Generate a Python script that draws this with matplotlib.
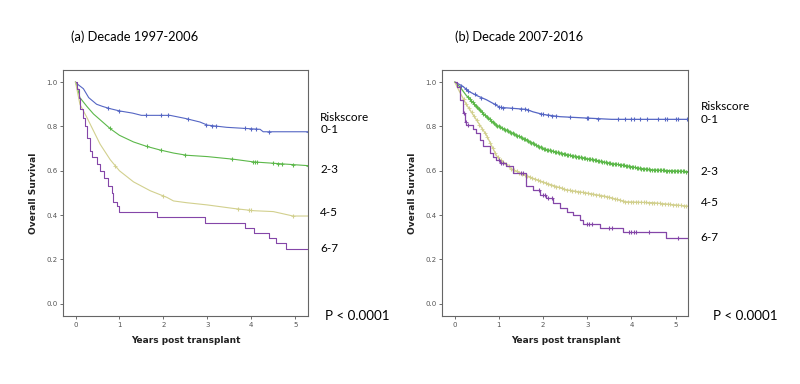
import numpy as np
import matplotlib
matplotlib.use("Agg")
import matplotlib.pyplot as plt

# Kaplan-Meier curves (years, survival)
groups = ["0-1", "2-3", "4-5", "6-7"]
colors = ["#5566c4", "#5cb84a", "#d2d08e", "#8446a8"]

# (a) decade 1997-2006
a_t = [
    [0, 0.05, 0.18, 0.3, 0.48, 0.62, 0.79, 1.0, 1.3, 1.5, 2.15, 2.5, 2.83, 3.0, 3.44, 4.2, 4.27, 5.3],
    [0, 0.05, 0.1, 0.26, 0.41, 0.56, 0.79, 1.0, 1.32, 1.62, 1.92, 2.23, 2.53, 3.0, 3.6, 4.05, 4.5, 5.3],
    [0, 0.05, 0.1, 0.26, 0.41, 0.56, 0.79, 1.0, 1.32, 1.7, 2.08, 2.23, 2.53, 3.0, 3.6, 4.05, 4.5, 4.95, 5.3],
    [0, 0.03, 0.07, 0.1, 0.18, 0.22, 0.26, 0.32, 0.37, 0.48, 0.56, 0.64, 0.75, 0.83, 0.86, 0.94, 1.0,
     1.85, 2.95, 3.86, 4.05, 4.41, 4.56, 4.78, 5.3],
]
a_s = [
    [1.0, 0.99, 0.97, 0.93, 0.90, 0.89, 0.88, 0.87, 0.86, 0.85, 0.85, 0.836, 0.82, 0.806, 0.796, 0.787, 0.776, 0.776],
    [1.0, 0.97, 0.93, 0.89, 0.856, 0.83, 0.79, 0.76, 0.73, 0.71, 0.694, 0.68, 0.67, 0.664, 0.652, 0.64, 0.634, 0.623],
    [1.0, 0.95, 0.90, 0.84, 0.78, 0.72, 0.65, 0.60, 0.55, 0.51, 0.48, 0.464, 0.456, 0.446, 0.43, 0.42, 0.416, 0.396, 0.396],
    [1.0, 0.97, 0.93, 0.88, 0.84, 0.80, 0.75, 0.69, 0.66, 0.63, 0.60, 0.566, 0.53, 0.50, 0.46, 0.44, 0.416,
     0.393, 0.366, 0.341, 0.318, 0.296, 0.273, 0.246, 0.246],
]
a_cens = [
    [0.75, 1.0, 1.6, 1.95, 2.1, 2.55, 2.98, 3.1, 3.2, 3.85, 4.0, 4.1, 4.4, 5.28],
    [0.78, 1.62, 1.95, 2.5, 3.55, 4.03, 4.08, 4.12, 4.5, 4.6, 4.7, 4.95, 5.28],
    [0.9, 2.0, 3.7, 3.95, 4.0, 4.95],
    [],
]
a_stepped = [False, False, False, True]

# (b) decade 2007-2016
b_t = [
    [0, 0.1, 0.19, 0.3, 0.49, 0.72, 0.94, 1.02, 1.62, 1.77, 2.0, 2.38, 3.55, 5.3],
    [0, 0.05, 0.11, 0.26, 0.49, 0.72, 0.94, 1.24, 1.55, 1.77, 2.0, 2.38, 2.75, 3.13, 3.51, 3.88, 4.19, 4.49, 5.3],
    [0, 0.05, 0.11, 0.26, 0.49, 0.72, 0.94, 1.02, 1.32, 1.77, 2.07, 2.53, 2.98, 3.43, 3.88, 4.49, 5.3],
    [0, 0.04, 0.11, 0.19, 0.23, 0.26, 0.41, 0.49, 0.57, 0.64, 0.79, 0.87, 0.94, 1.02, 1.17, 1.32, 1.62,
     1.77, 1.92, 2.07, 2.22, 2.38, 2.53, 2.68, 2.83, 2.9, 3.28, 3.81, 4.79, 5.3],
]
b_s = [
    [1.0, 0.99, 0.98, 0.96, 0.94, 0.92, 0.896, 0.886, 0.877, 0.866, 0.854, 0.844, 0.832, 0.832],
    [1.0, 0.99, 0.98, 0.94, 0.89, 0.844, 0.806, 0.776, 0.746, 0.724, 0.70, 0.68, 0.664, 0.65, 0.634, 0.623, 0.611, 0.604, 0.596],
    [1.0, 0.98, 0.956, 0.90, 0.83, 0.76, 0.67, 0.65, 0.604, 0.566, 0.544, 0.514, 0.50, 0.484, 0.46, 0.456, 0.44],
    [1.0, 0.98, 0.92, 0.86, 0.82, 0.806, 0.79, 0.77, 0.74, 0.71, 0.68, 0.664, 0.65, 0.634, 0.62, 0.59, 0.53,
     0.514, 0.49, 0.476, 0.454, 0.43, 0.415, 0.40, 0.38, 0.36, 0.34, 0.326, 0.296, 0.296],
]
b_cens = [
    [0.15, 0.25, 0.3, 0.45, 0.6, 0.9, 1.0, 1.05, 1.1, 1.3, 1.5, 1.6, 1.65, 1.95, 2.0, 2.1, 2.2, 2.3, 2.6, 3.0,
     3.02, 3.25, 3.7, 3.85, 4.0, 4.05, 4.2, 4.35, 4.6, 4.75, 4.8, 5.0, 5.05, 5.25],
    list(np.round(np.arange(0.3, 5.3, 0.035), 3)),
    list(np.round(np.arange(0.2, 5.3, 0.06), 3)),
    [0.2, 0.25, 0.3, 1.0, 1.05, 1.1, 1.5, 1.55, 1.9, 2.0, 2.05, 2.1, 2.2, 3.0, 3.05, 3.1, 3.5, 3.55, 3.95,
     4.0, 4.05, 4.1, 4.4, 5.05],
]
b_stepped = [False, False, False, True]

titles = ["(a) Decade 1997-2006", "(b) Decade 2007-2016"]
head_y = [0.842, 0.892]
label_y = [[0.784, 0.608, 0.414, 0.248], [0.833, 0.599, 0.455, 0.297]]

plt.rcParams["font.family"] = "DejaVu Sans"
fig = plt.figure(figsize=(8, 3.84), dpi=100)
axes = [fig.add_axes([0.079, 0.177, 0.306, 0.641]),
        fig.add_axes([0.553, 0.177, 0.3075, 0.641])]

panels = [(a_t, a_s, a_cens, a_stepped), (b_t, b_s, b_cens, b_stepped)]
for k, ax in enumerate(axes):
    tt, ss, cc, stp = panels[k]
    lw = 0.8 if k == 0 else 0.9
    for g in range(4):
        t = np.array(tt[g])
        s = np.array(ss[g])
        if stp[g]:
            ax.step(t, s, where="post", color=colors[g], lw=lw)
        else:
            ax.plot(t, s, color=colors[g], lw=lw)
        if cc[g]:
            ct = np.array(cc[g])
            cs = np.interp(ct, t, s) if not stp[g] else s[np.searchsorted(t, ct, side="right") - 1]
            ax.plot(ct, cs, ls="none", marker="|", ms=3.5, mew=0.8, color=colors[g])
            ax.plot(ct, cs, ls="none", marker="_", ms=2.5, mew=0.6, color=colors[g])
    ax.set_xlim(-0.28, 5.29)
    ax.set_ylim(-0.055, 1.055)
    ax.set_xticks([0, 1, 2, 3, 4, 5])
    ax.set_yticks([0.0, 0.2, 0.4, 0.6, 0.8, 1.0])
    ax.set_yticklabels(["0.0", "0.2", "0.4", "0.6", "0.8", "1.0"])
    ax.tick_params(labelsize=5, colors="#555555", length=2, width=0.6, pad=2)
    for sp in ax.spines.values():
        sp.set_color("#666666")
        sp.set_linewidth(0.8)
    ax.set_ylabel("Overall Survival", fontsize=6.5, fontweight="bold", color="#222222", labelpad=6)
    ax.set_xlabel("Years post transplant", fontsize=6.5, fontweight="bold", color="#222222", labelpad=6)
    ax.text(0.03 if k == 0 else 0.05, 1.134, titles[k], transform=ax.transAxes,
            fontsize=9.3, family="Lato", ha="left", va="center")
    tr = ax.get_yaxis_transform()
    ax.text(1.05, head_y[k], "Riskscore", transform=tr, fontsize=8.5,
            family="Lato", va="center", ha="left")
    for g in range(4):
        ax.text(1.05, label_y[k][g], groups[g], transform=tr,
                fontsize=8.5, family="Lato", va="center", ha="left")
    ax.text(1.07 if k == 0 else 1.1, 0.0, "P < 0.0001", transform=ax.transAxes,
            fontsize=9.6, family="Lato", va="center", ha="left")

fig.savefig("out.png", dpi=100)
